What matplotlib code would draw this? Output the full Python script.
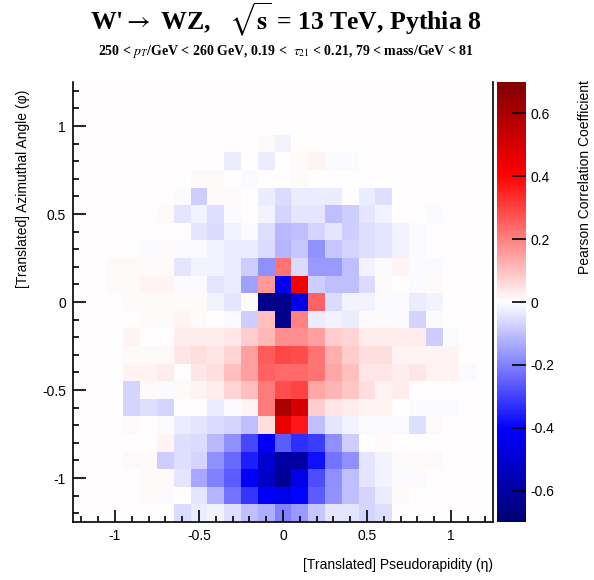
import matplotlib
matplotlib.use("Agg")
import matplotlib.pyplot as plt
import numpy as np
from matplotlib.colors import LinearSegmentedColormap
from matplotlib.ticker import MultipleLocator, FuncFormatter

# --- Data: Pearson correlation per (eta, phi) bin, rows from top (phi=1.2) to bottom (phi=-1.2) ---
eta_edges = np.linspace(-1.25, 1.25, 26)
phi_edges = np.linspace(-1.25, 1.25, 26)

corr_rows = [
    [0]*25,
    [0]*25,
    [0]*25,
    [0,0,0,0,0,0,0,0,0,0,0,0.01,-0.02,0,0,0,0,0,0,0,0,0,0,0,0],
    [0,0,0,0,0,0,0,0,0,-0.03,0,-0.03,0,0.01,0.02,-0.01,-0.01,0,0,0,0,0,0,0,0],
    [0,0,0,0,0,0,0,0.01,0.01,0,-0.01,0,0,0.01,0,0,0,0,0,0,0,0,0,0,0],
    [0,0,0,0,0,0,-0.01,-0.08,0.01,0.01,0,-0.03,-0.06,-0.03,-0.03,-0.03,0,-0.03,-0.05,0,0,0,0,0,0],
    [0,0,0,0,0,0.01,-0.04,-0.02,-0.05,-0.01,0,-0.02,-0.07,-0.04,-0.04,-0.1,-0.08,-0.04,-0.02,0,0,-0.01,0,0,0],
    [0,0,0,0,0,0,0,-0.04,-0.06,-0.02,-0.01,-0.05,-0.11,-0.1,-0.07,-0.04,-0.08,-0.05,-0.04,-0.02,-0.01,0,0,0,0],
    [0,0,0,0,-0.01,0.01,-0.01,-0.01,-0.02,-0.03,-0.03,-0.06,-0.12,-0.09,-0.17,-0.09,-0.07,-0.05,-0.04,-0.02,-0.01,0,0,0,0],
    [0,0,0.01,0.01,0.01,0.01,-0.04,-0.02,-0.02,-0.03,-0.08,-0.18,0.22,-0.06,-0.16,-0.16,-0.1,-0.02,-0.01,0.02,-0.01,-0.01,0,0,0],
    [0,0,0.01,0.01,0.02,0.02,-0.01,-0.01,-0.04,-0.03,-0.15,0.16,-0.42,0.42,-0.08,-0.1,-0.1,-0.06,0.01,0,-0.01,0.01,0,0,0],
    [0,0,0,0.01,0.01,0.01,0.01,0.01,-0.02,-0.04,0.01,-0.65,-0.65,-0.45,0.25,-0.06,-0.02,-0.02,-0.01,-0.01,-0.03,-0.02,0,0,0],
    [0,0,0,0,0.01,0.01,0.02,0.01,0,-0.01,-0.08,0.1,-0.65,0.2,-0.03,-0.02,-0.03,0.01,0.01,-0.01,-0.07,-0.01,0,0,0],
    [0,0,0,0.02,0,0,0.03,0.03,0.03,0.04,0.08,0.11,0.18,0.18,0.15,0.08,0.07,0.03,0.03,0.03,0.03,-0.08,-0.01,0,0],
    [0,0,0,0.01,0.01,0.01,0.04,0.05,0.04,0.07,0.15,0.26,0.29,0.28,0.22,0.13,0.08,0.05,0.05,0.02,0.02,0.02,0.02,0,0],
    [0,0,0,0.02,0.02,0.03,0,0.04,0.05,0.1,0.15,0.25,0.24,0.24,0.22,0.14,0.1,0.04,0.04,0.03,0.04,0.02,0.02,-0.01,0],
    [0,0,0,-0.07,0.01,-0.01,0.01,0.02,0.03,0.07,0.1,0.21,0.28,0.3,0.14,0.12,0.09,0.05,0.02,0.03,0,0,0,0,0],
    [0,0,0,-0.07,-0.05,-0.07,0,0,-0.03,-0.01,0.02,0.21,0.6,0.5,0.08,0.04,0.03,0.02,0.02,0,-0.01,-0.01,-0.01,0,0],
    [0,0,0,0.01,0,-0.01,-0.03,-0.04,-0.06,-0.07,-0.1,0.05,0.45,0.37,-0.1,-0.04,-0.02,-0.01,-0.01,-0.01,-0.05,0.01,0,0,0],
    [0,0,0,0,0,0.02,-0.05,-0.06,-0.11,-0.18,-0.29,-0.42,-0.26,-0.33,-0.31,-0.18,-0.08,0,0.01,0,0,0,0,0,0],
    [0,0,0,0.01,0.01,-0.08,-0.05,-0.07,-0.18,-0.24,-0.36,-0.5,-0.6,-0.6,-0.38,-0.22,-0.18,-0.04,-0.02,0.01,0.01,0.01,0,0,0],
    [0,0,0,0,0.01,0.01,-0.04,-0.14,-0.2,-0.26,-0.42,-0.52,-0.62,-0.45,-0.28,-0.18,-0.1,-0.04,-0.02,-0.01,-0.01,0,0,0,0],
    [0,0,0,0,0.01,-0.01,0,-0.04,-0.12,-0.22,-0.32,-0.42,-0.45,-0.4,-0.26,-0.17,-0.1,-0.07,-0.03,0.01,0,0,0,0,0],
    [0,0,0,0,0,0,-0.06,-0.03,-0.02,-0.05,-0.1,-0.13,-0.2,-0.16,-0.09,-0.04,-0.04,-0.07,-0.05,0,0,0,0,0,0],
]

cbar_ticks = [-0.6, -0.4, -0.2, 0, 0.2, 0.4, 0.6]

plt.rcParams['mathtext.fontset'] = 'stix'

cmap = LinearSegmentedColormap.from_list(
    "pearson",
    [(0.0, (0.0, 0.0, 0.45)), (0.21, (0.0, 0.0, 1.0)), (0.5, (1.0, 1.0, 1.0)),
     (0.79, (1.0, 0.0, 0.0)), (1.0, (0.5, 0.0, 0.0))])

Z = np.array(corr_rows)[::-1]

fig = plt.figure(figsize=(5.94, 5.80), dpi=100)
ax = fig.add_axes([73/594, 58/580, 420/594, 440/580])
mesh = ax.pcolormesh(eta_edges, phi_edges, Z, cmap=cmap, vmin=-0.7, vmax=0.7)
ax.set_xlim(-1.25, 1.25)
ax.set_ylim(-1.25, 1.25)

fmt = FuncFormatter(lambda v, p: "%g" % round(v, 2))
for axis in (ax.xaxis, ax.yaxis):
    axis.set_major_locator(MultipleLocator(0.5))
    axis.set_minor_locator(MultipleLocator(0.1))
    axis.set_major_formatter(fmt)
ax.tick_params(which='both', direction='in', top=False, right=False, width=1.2)
ax.tick_params(which='major', length=9, labelsize=10, pad=5)
ax.tick_params(which='minor', length=4.5)
for lbl in ax.get_xticklabels() + ax.get_yticklabels():
    lbl.set_family('Liberation Sans')
ax.spines['top'].set_visible(False)
for s in ('left', 'bottom', 'right'):
    ax.spines[s].set_linewidth(1.2)

cax = fig.add_axes([497/594, 58/580, 29/594, 440/580])
cb = fig.colorbar(mesh, cax=cax, ticks=cbar_ticks)
cb.outline.set_visible(False)
cax.yaxis.set_major_formatter(fmt)
cax.tick_params(direction='in', length=10, width=1.2, labelsize=10, pad=3)
for lbl in cax.get_yticklabels():
    lbl.set_family('Liberation Sans')

# texts
fig.text(286/594, 1 - 20/580, "W'$\\rightarrow$ WZ,   $\\sqrt{\\mathbf{s}}$ = 13 TeV, Pythia 8",
         ha='center', va='center', fontsize=18.5, fontweight='bold',
         family=['Liberation Serif', 'DejaVu Serif'])
fig.text(286/594, 1 - 52/580,
         "250 < $p_{T}$/GeV < 260 GeV, 0.19 <  $\\tau_{21}$ < 0.21, 79 < mass/GeV < 81",
         ha='center', va='center', fontsize=10, fontweight='bold',
         family=['Liberation Serif', 'DejaVu Serif'])
fig.text(493/594, 15/580, "[Translated] Pseudorapidity (\u03b7)", ha='right', va='center',
         fontsize=10, family=['Liberation Sans', 'DejaVu Sans'])
fig.text(23/594, 1 - 90/580, "[Translated] Azimuthal Angle (\u03c6)", ha='center', va='top',
         rotation=90, fontsize=10, family=['Liberation Sans', 'DejaVu Sans'])
fig.text(585/594, 1 - 80/580, "Pearson Correlation Coefficient", ha='center', va='top',
         rotation=90, fontsize=10, family=['Liberation Sans', 'DejaVu Sans'])

fig.savefig("out.png", dpi=100)
